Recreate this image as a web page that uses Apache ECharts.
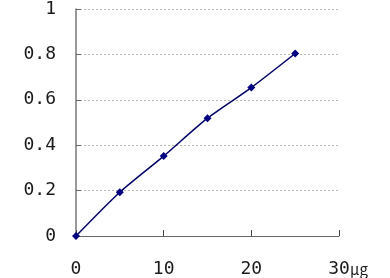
<!DOCTYPE html>
<html><head><meta charset="utf-8">
<script src="https://cdn.jsdelivr.net/npm/echarts@6/dist/echarts.min.js"></script>
<style>html,body{margin:0;padding:0;background:#fff}#c{width:390px;height:278px}</style>
</head><body><div id="c"></div>
<script>
const xValues = [0, 5, 10, 15, 20, 25];
const yValues = [0, 0.193, 0.352, 0.519, 0.654, 0.804];
const unitLabel = 'μg';
const chart = echarts.init(document.getElementById('c'), null, {renderer: 'canvas'});
const data = xValues.map((x, i) => [x, yValues[i]]);
const labelFont = {fontFamily: 'DejaVu Sans Mono', fontSize: 18, color: '#1a1a1a'};
chart.setOption({
  animation: false,
  backgroundColor: '#fff',
  grid: {left: 76, top: 7, right: 51, bottom: 41},
  xAxis: {
    type: 'value', min: 0, max: 30, interval: 10,
    axisLine: {show: true, onZero: false, lineStyle: {color: '#666', width: 1}},
    axisTick: {show: true, inside: true, length: 6, lineStyle: {color: '#444'}},
    splitLine: {show: false},
    axisLabel: Object.assign({margin: 24}, labelFont)
  },
  yAxis: {
    type: 'value', min: 0, max: 1, interval: 0.2,
    axisLine: {show: true, lineStyle: {color: '#777', width: 1.5}},
    axisTick: {show: true, inside: true, length: 5, lineStyle: {color: '#666'}},
    splitLine: {show: true, lineStyle: {color: '#b5b5b5', type: [2, 2], width: 1}},
    axisLabel: Object.assign({margin: 20, formatter: v => String(+v.toFixed(1))}, labelFont)
  },
  graphic: [{
    type: 'text', left: 350, top: 262,
    style: {text: unitLabel, font: '15px "Noto Sans CJK JP"', fill: '#1a1a1a'}
  }],
  series: [{
    type: 'line', data: data, smooth: 0.25,
    symbol: 'diamond', symbolSize: 8,
    lineStyle: {color: '#000066', width: 1.5},
    itemStyle: {color: '#000080'}
  }]
});
</script></body></html>
